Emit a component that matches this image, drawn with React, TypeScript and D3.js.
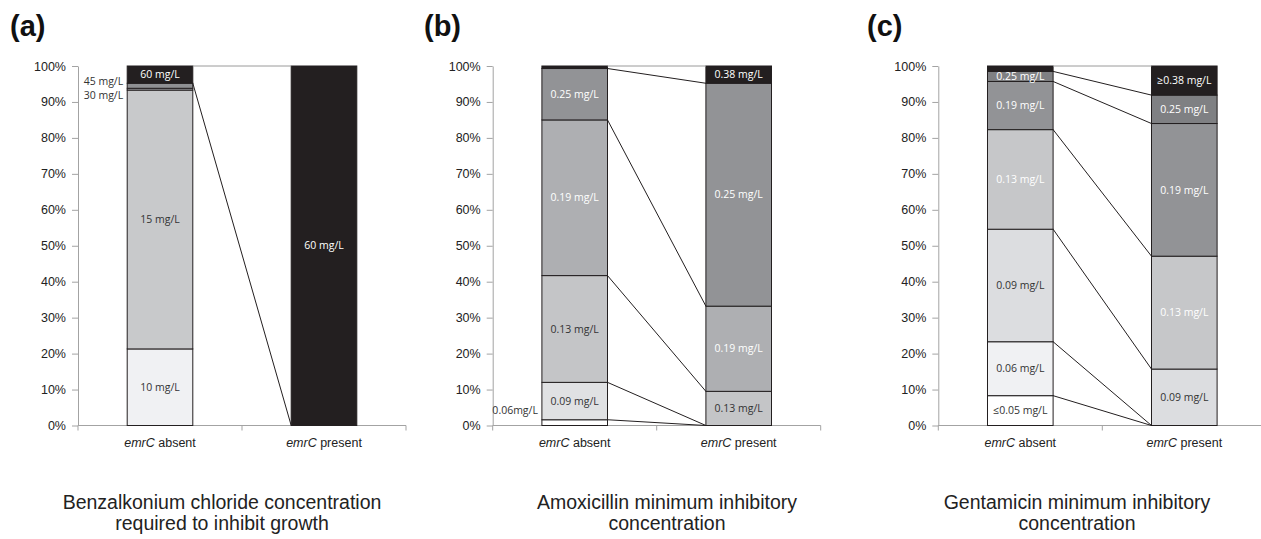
import React, { useRef, useEffect } from 'react';
import * as d3 from 'd3';

const categories = ['absent', 'present'];
const yTickValues = [0, 10, 20, 30, 40, 50, 60, 70, 80, 90, 100];

// (a) benzalkonium chloride, % of isolates per concentration
const bzkLevels = ['10 mg/L', '15 mg/L', '30 mg/L', '45 mg/L', '60 mg/L'];
const bzkAbsent = [21.3, 72.0, 0.5, 1.4, 4.8];
const bzkPresent = [0, 0, 0, 0, 100];
const bzkFills = ['#f0f1f3', '#c8c9cb', '#a9aaad', '#8f9093', '#231f20'];
const bzkText = ['#333', '#333', '#333', '#333', '#fff'];
const bzkOutside = [false, false, true, true, false];
const bzkLinks = [false, false, false, true, true];
const bzkTitle = ['Benzalkonium chloride concentration', 'required to inhibit growth'];

// (b) amoxicillin MIC
const amxLevels = ['0.06mg/L', '0.09 mg/L', '0.13 mg/L', '0.19 mg/L', '0.25 mg/L', '0.38 mg/L'];
const amxAbsent = [1.6, 10.4, 29.7, 43.3, 14.3, 0.7];
const amxPresent = [0, 0, 9.5, 23.7, 62.0, 4.8];
const amxFills = ['#ffffff', '#e0e1e3', '#c4c5c7', '#aeafb2', '#929396', '#231f20'];
const amxText = ['#333', '#333', '#333', '#fff', '#fff', '#fff'];
const amxOutside = [true, false, false, false, false, false];
const amxLinks = [true, true, true, true, true, true];
const amxTitle = ['Amoxicillin minimum inhibitory', 'concentration'];

// (c) gentamicin MIC
const genLevels = ['≤0.05 mg/L', '0.06 mg/L', '0.09 mg/L', '0.13 mg/L', '0.19 mg/L', '0.25 mg/L', '≥0.38 mg/L'];
const genAbsent = [8.3, 15.0, 31.3, 27.7, 13.4, 2.8, 1.5];
const genPresent = [0, 0, 15.7, 31.4, 36.9, 7.9, 8.1];
const genFills = ['#ffffff', '#f0f1f3', '#dcdde0', '#c6c7c9', '#929396', '#7f8083', '#231f20'];
const genText = ['#333', '#333', '#333', '#fff', '#fff', '#fff', '#fff'];
const genOutside = [false, false, false, false, false, false, false];
const genLinks = [true, true, true, true, true, true, true];
const genTitle = ['Gentamicin minimum inhibitory', 'concentration'];

interface Panel {
  tag: string;
  levels: string[];
  absent: number[];
  present: number[];
  fills: string[];
  text: string[];
  outside: boolean[];
  links: boolean[];
  title: string[];
  left: number;
  titleX: number;
  tagX: number;
}

const panels: Panel[] = [
  { tag: '(a)', levels: bzkLevels, absent: bzkAbsent, present: bzkPresent, fills: bzkFills, text: bzkText,
    outside: bzkOutside, links: bzkLinks, title: bzkTitle, left: 78, titleX: 222, tagX: 10 },
  { tag: '(b)', levels: amxLevels, absent: amxAbsent, present: amxPresent, fills: amxFills, text: amxText,
    outside: amxOutside, links: amxLinks, title: amxTitle, left: 492.7, titleX: 667, tagX: 424 },
  { tag: '(c)', levels: genLevels, absent: genAbsent, present: genPresent, fills: genFills, text: genText,
    outside: genOutside, links: genLinks, title: genTitle, left: 938.3, titleX: 1077, tagX: 867 },
];

const W = 1261;
const H = 539;
const plotTop = 66;
const plotBottom = 425.5;
const plotWidth = 328;
const axisColor = '#a3a3a3';
const ink = '#231f20';
const sans = '"Liberation Sans", Arial, sans-serif';
const barFont = '"Open Sans", sans-serif';

const App: React.FC = () => {
  const svgRef = useRef<SVGSVGElement>(null);

  useEffect(() => {
    const svg = d3.select(svgRef.current);
    svg.selectAll('*').remove();

    const y = d3.scaleLinear().domain([0, 100]).range([plotBottom, plotTop]);

    panels.forEach(p => {
      const g = svg.append('g').attr('transform', `translate(${p.left},0)`);
      const x = d3.scaleBand()
        .domain(categories)
        .range([0, plotWidth])
        .paddingInner(0.6)
        .paddingOuter(0.3);
      const bw = x.bandwidth();

      // stacked rows, one per category
      const keys = p.levels.map((_, i) => String(i));
      const rows = categories.map(c => {
        const vals = c === 'absent' ? p.absent : p.present;
        const row: Record<string, any> = { cat: c };
        vals.forEach((v, i) => { row[String(i)] = v; });
        return row;
      });
      const series = d3.stack<Record<string, any>>().keys(keys)(rows);

      // y axis
      const yAxis = d3.axisLeft(y)
        .tickValues(yTickValues)
        .tickFormat(d => `${d}%`)
        .tickSize(6)
        .tickSizeOuter(0)
        .tickPadding(6);
      const ya = g.append('g').call(yAxis);
      ya.select('.domain').attr('stroke', axisColor);
      ya.selectAll('.tick line').attr('stroke', axisColor);
      ya.selectAll('.tick text')
        .attr('font-family', sans)
        .attr('font-size', 12.5)
        .attr('fill', '#222');

      // x axis (Excel style, ticks between categories)
      g.append('line')
        .attr('x1', 0).attr('x2', plotWidth)
        .attr('y1', plotBottom).attr('y2', plotBottom)
        .attr('stroke', axisColor);
      g.selectAll('.xtick')
        .data([0, 1, 2])
        .enter()
        .append('line')
        .attr('x1', d => d * x.step()).attr('x2', d => d * x.step())
        .attr('y1', plotBottom).attr('y2', plotBottom + 5)
        .attr('stroke', axisColor);

      const xl = g.selectAll('.xlab')
        .data(categories)
        .enter()
        .append('text')
        .attr('x', d => (x(d) ?? 0) + bw / 2)
        .attr('y', 447)
        .attr('text-anchor', 'middle')
        .attr('font-family', sans)
        .attr('font-size', 12.5)
        .attr('fill', '#222');
      xl.append('tspan').attr('font-style', 'italic').text('emrC');
      xl.append('tspan').text(d => ` ${d}`);

      // segments
      series.forEach((s, i) => {
        s.forEach((seg, j) => {
          const v = seg[1] - seg[0];
          if (v <= 0) return;
          const cat = categories[j];
          g.append('rect')
            .attr('x', x(cat) ?? 0)
            .attr('y', y(seg[1]))
            .attr('width', bw)
            .attr('height', y(seg[0]) - y(seg[1]))
            .attr('fill', p.fills[i])
            .attr('stroke', ink)
            .attr('stroke-width', 1);
        });
      });

      // series lines between bars
      series.forEach((s, i) => {
        if (!p.links[i]) return;
        const top = i === series.length - 1;
        g.append('line')
          .attr('x1', (x('absent') ?? 0) + bw)
          .attr('y1', y(s[0][1]))
          .attr('x2', x('present') ?? 0)
          .attr('y2', y(s[1][1]))
          .attr('stroke', top ? '#9a9a9a' : ink)
          .attr('stroke-width', 1);
      });

      // labels inside segments
      series.forEach((s, i) => {
        s.forEach((seg, j) => {
          const v = seg[1] - seg[0];
          const cat = categories[j];
          if (v < 2.5) return;
          if (p.outside[i] && cat === 'absent') return;
          g.append('text')
            .attr('x', (x(cat) ?? 0) + bw / 2)
            .attr('y', y((seg[0] + seg[1]) / 2))
            .attr('dy', '0.35em')
            .attr('text-anchor', 'middle')
            .attr('font-family', barFont)
            .attr('font-size', 10.5)
            .attr('fill', p.text[i])
            .text(p.levels[i]);
        });
      });

      // labels left of the absent bar for thin segments
      const outIdx = p.levels.map((_, i) => i).filter(i => p.outside[i]).reverse();
      if (outIdx.length) {
        const centers = outIdx.map(i => y((series[i][0][0] + series[i][0][1]) / 2));
        let mid = d3.mean(centers) ?? 0;
        mid = Math.min(mid, plotBottom - 16 - (outIdx.length - 1) * 7);
        outIdx.forEach((i, k) => {
          g.append('text')
            .attr('x', (x('absent') ?? 0) - 4)
            .attr('y', mid + 1 + (k - (outIdx.length - 1) / 2) * 14)
            .attr('dy', '0.35em')
            .attr('text-anchor', 'end')
            .attr('font-family', barFont)
            .attr('font-size', 10.5)
            .attr('fill', '#333')
            .text(p.levels[i]);
        });
      }

      // panel tag and caption
      svg.append('text')
        .attr('x', p.tagX)
        .attr('y', 36)
        .attr('font-family', sans)
        .attr('font-weight', 'bold')
        .attr('font-size', 29)
        .attr('fill', '#111')
        .text(p.tag);

      svg.append('text')
        .attr('text-anchor', 'middle')
        .attr('font-family', sans)
        .attr('font-size', 19.5)
        .attr('fill', '#222')
        .selectAll('tspan')
        .data(p.title)
        .enter()
        .append('tspan')
        .attr('x', p.titleX)
        .attr('y', (_, k) => 509 + k * 21)
        .text(d => d);
    });
  }, []);

  return (
    <svg
      ref={svgRef}
      width={W}
      height={H}
      style={{ position: 'absolute', left: 0, top: 0, background: '#fff' }}
    />
  );
};

export default App;
